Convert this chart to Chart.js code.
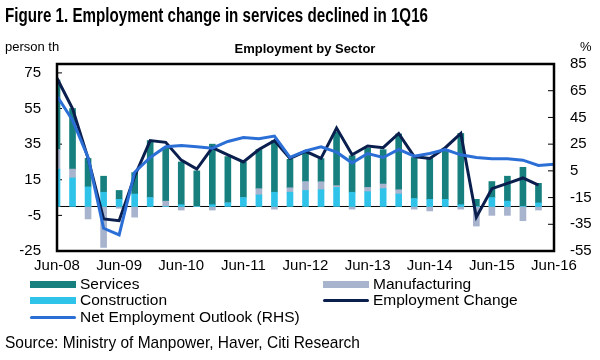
<!DOCTYPE html>
<html>
<head>
<meta charset="utf-8">
<title>Employment by Sector</title>
<script src="https://cdn.jsdelivr.net/npm/chart.js@4"></script>
<style>
  body { margin: 0; width: 600px; height: 360px; background: #fff; position: relative; overflow: hidden;
         font-family: "Liberation Sans", Arial, sans-serif; color: #000; }
  #chart { position: absolute; left: 0; top: 0; }
  .txt { position: absolute; white-space: nowrap; }
  .fit { transform-origin: 0 50%; }
  .title { left: 5px; top: 4px; font-weight: bold; font-size: 20px; }
  .unit { top: 39px; font-size: 13px; }
  .sub { left: 0; width: 610px; text-align: center; top: 41px; font-size: 13px; font-weight: bold; }
  .leg { position: absolute; font-size: 15.5px; line-height: 16px; }
  .leg i { position: absolute; left: -50px; width: 46px; }
  .source { left: 5px; top: 333px; font-size: 17px; }
</style>
</head>
<body>
<canvas id="chart" width="600" height="360"></canvas>
<div class="txt title fit" data-w="423">Figure 1. Employment change in services declined in 1Q16</div>
<div class="txt unit" style="left:5px">person th</div>
<div class="txt sub">Employment by Sector</div>
<div class="txt unit" style="left:580px">%</div>
<div id="legend"></div>
<div class="txt source fit" data-w="355">Source: Ministry of Manpower, Haver, Citi Research</div>
<script>
// quarterly, 2Q08 - 2Q16
const quarters = ['Jun-08','Sep-08','Dec-08','Mar-09','Jun-09','Sep-09','Dec-09','Mar-10',
  'Jun-10','Sep-10','Dec-10','Mar-11','Jun-11','Sep-11','Dec-11','Mar-12',
  'Jun-12','Sep-12','Dec-12','Mar-13','Jun-13','Sep-13','Dec-13','Mar-14',
  'Jun-14','Sep-14','Dec-14','Mar-15','Jun-15','Sep-15','Dec-15','Mar-16','Jun-16'];

// person th (LHS)
const construction = [21, 16, 11, 8, 4, 7, 5, 0, 1, 0, 1, 2, 5, 6.5, 8, 8,
  9, 9.4, 10.7, 8, 8.3, 10, 7, 4.5, 4, 4, 1, 0, 5, 3, 0, 2, null];
const manufacturing = [11, 5, -7, -23, -1, -6, 0, 3, -2, 0, -2, 0, 0, 3.5, -1.5, 2.5,
  5, 4.5, 1, -1.5, 2.4, 2.6, 2.4, -1.5, -2.5, 0, -1.5, -11, -5, -5, -8, -2, null];
const services = [39, 34, 16, 9, 5, 12, 32, 30, 24, 20, 34, 26, 20, 22, 29, 16,
  17, 13, 30, 20.5, 22, 19.3, 31.3, 23, 23, 28, 40, 4, 9, 14, 22, 11, null];
const employmentChange = [72, 55, 27, -7, -8, 17, 37, 36, 26, 21, 33, 29, 25, 32, 37, 27,
  31, 27, 44, 29, 34, 33, 41, 28, 27, 33, 41, -6, 10, 13, 16, 12, null];

// % (RHS)
const netOutlook = [61, 43, 15, -38, -43, 4, 15, 23, 24, 23, 22, 27, 30, 29, 31, 15,
  20, 23, 19, 11, 18, 15, 21, 16, 18, 21, 17, 15, 14, 14, 13, 9, 10];

const leftTicks = [-25, -5, 15, 35, 55, 75];
const rightTicks = [-55, -35, -15, 5, 25, 45, 65, 85];

const C_SERV = '#17807f';
const C_MANU = '#a8b4cd';
const C_CONS = '#2fc3ea';
const C_EMP = '#0b1f4e';
const C_NEO = '#2b6fd6';

// squeeze title/source to the narrow width of the original
document.querySelectorAll('.fit').forEach(el => {
  const w = el.getBoundingClientRect().width;
  el.style.transform = 'scaleX(' + (el.dataset.w / w) + ')';
});

// frame, zero line and small tick marks
const framePlugin = {
  id: 'frame',
  beforeDatasetsDraw(chart) {
    const { ctx, chartArea: a, scales } = chart;
    const y0 = scales.y.getPixelForValue(0);
    ctx.save();
    ctx.strokeStyle = '#000';
    ctx.lineWidth = 1;
    ctx.beginPath();
    ctx.moveTo(a.left, y0);
    ctx.lineTo(a.right, y0);
    for (let i = 4; i < quarters.length; i += 4) {
      const x = scales.x.getPixelForValue(i);
      ctx.moveTo(x, y0);
      ctx.lineTo(x, y0 - 4);
    }
    leftTicks.forEach(v => {
      const y = scales.y.getPixelForValue(v);
      ctx.moveTo(a.left, y);
      ctx.lineTo(a.left + 5, y);
    });
    rightTicks.forEach(v => {
      const y = scales.y1.getPixelForValue(v);
      ctx.moveTo(a.right, y);
      ctx.lineTo(a.right - 6, y);
    });
    ctx.stroke();
    ctx.restore();
  },
  afterDraw(chart) {
    const { ctx, chartArea: a } = chart;
    ctx.save();
    ctx.strokeStyle = '#000';
    ctx.lineWidth = 2.5;
    ctx.strokeRect(a.left, a.top, a.right - a.left, a.bottom - a.top);
    ctx.restore();
  }
};

const tickFont = { family: '"Liberation Sans", Arial, sans-serif', size: 15 };

const chart = new Chart(document.getElementById('chart'), {
  type: 'bar',
  data: {
    labels: quarters,
    datasets: [
      { label: 'Construction', data: construction, backgroundColor: C_CONS, stack: 's', order: 3 },
      { label: 'Manufacturing', data: manufacturing, backgroundColor: C_MANU, stack: 's', order: 3 },
      { label: 'Services', data: services, backgroundColor: C_SERV, stack: 's', order: 3 },
      { type: 'line', label: 'Employment Change', data: employmentChange, borderColor: C_EMP,
        borderWidth: 3, pointRadius: 0, tension: 0, yAxisID: 'y', order: 2 },
      { type: 'line', label: 'Net Employment Outlook (RHS)', data: netOutlook, borderColor: C_NEO,
        borderWidth: 3, pointRadius: 0, tension: 0, yAxisID: 'y1', order: 1 }
    ]
  },
  options: {
    responsive: false,
    animation: false,
    devicePixelRatio: 1,
    layout: { padding: { top: 64, bottom: 89, left: 0, right: 0 } },
    datasets: { bar: { barThickness: 6 } },
    plugins: { legend: { display: false }, tooltip: { enabled: false } },
    scales: {
      x: {
        offset: false,
        stacked: true,
        grid: { display: false, drawTicks: false },
        border: { display: false },
        ticks: {
          autoSkip: false, maxRotation: 0, color: '#000', font: tickFont, padding: 6,
          callback(v, i) { return i % 4 === 0 ? quarters[i] : ''; }
        },
        afterFit(s) { s.height = 20; }
      },
      y: {
        position: 'left',
        stacked: true,
        min: -25, max: 80,
        afterBuildTicks(s) { s.ticks = leftTicks.map(v => ({ value: v })); },
        grid: { display: false, drawTicks: false },
        border: { display: false },
        ticks: { color: '#000', font: tickFont, padding: 16 },
        afterFit(s) { s.width = 57; }
      },
      y1: {
        position: 'right',
        min: -55, max: 85,
        afterBuildTicks(s) { s.ticks = rightTicks.map(v => ({ value: v })); },
        grid: { display: false, drawTicks: false },
        border: { display: false },
        ticks: { color: '#000', font: tickFont, padding: 16 },
        afterFit(s) { s.width = 46; }
      }
    }
  },
  plugins: [framePlugin]
});

// legend, two columns like the original
const legendItems = [
  { text: 'Services', color: C_SERV, bar: true, x: 80, y: 276 },
  { text: 'Manufacturing', color: C_MANU, bar: true, x: 373, y: 276 },
  { text: 'Construction', color: C_CONS, bar: true, x: 80, y: 292 },
  { text: 'Employment Change', color: C_EMP, bar: false, x: 373, y: 292 },
  { text: 'Net Employment Outlook (RHS)', color: C_NEO, bar: false, x: 80, y: 309 }
];
const legend = document.getElementById('legend');
legendItems.forEach(it => {
  const d = document.createElement('div');
  d.className = 'leg';
  d.style.left = it.x + 'px';
  d.style.top = it.y + 'px';
  const h = it.bar ? 7 : 3;
  d.innerHTML = '<i style="top:' + (8 - h / 2) + 'px;height:' + h + 'px;background:' + it.color +
    (it.bar ? '' : ';border-radius:2px') + '"></i>' + it.text;
  legend.appendChild(d);
});
</script>
</body>
</html>
